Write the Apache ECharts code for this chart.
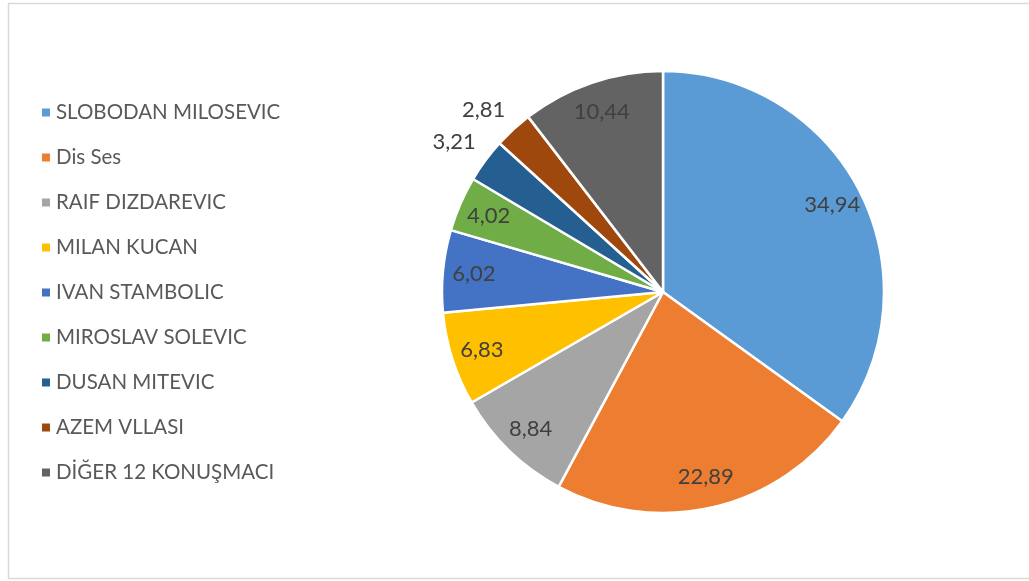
<!DOCTYPE html>
<html>
<head>
<meta charset="utf-8">
<script src="https://cdn.jsdelivr.net/npm/echarts@6/dist/echarts.min.js"></script>
<style>
  html, body { margin: 0; padding: 0; background: #ffffff; }
  #chart { width: 1029px; height: 581px; }
</style>
</head>
<body>
<div id="chart"></div>
<script>
// Speaking-time shares (percent) per speaker
const speakers = [
  'SLOBODAN MILOSEVIC',
  'Dis Ses',
  'RAIF DIZDAREVIC',
  'MILAN KUCAN',
  'IVAN STAMBOLIC',
  'MIROSLAV SOLEVIC',
  'DUSAN MITEVIC',
  'AZEM VLLASI',
  'DİĞER 12 KONUŞMACI'
];
const shares = [34.94, 22.89, 8.84, 6.83, 6.02, 4.02, 3.21, 2.81, 10.44];
const sliceColors = ['#5B9BD5', '#ED7D31', '#A5A5A5', '#FFC000', '#4472C4',
                     '#70AD47', '#255E91', '#9E480E', '#636363'];

const FONT = 'Lato, "Open Sans", sans-serif';
const CX = 663, CY = 292, R = 221;

const total = shares.reduce((a, b) => a + b, 0);
// mid-angle of each slice, clockwise from 12 o'clock
const midAngles = [];
let acc = 0;
shares.forEach(v => {
  midAngles.push(((acc + v / 2) / total) * Math.PI * 2);
  acc += v;
});

const chart = echarts.init(document.getElementById('chart'), null, { renderer: 'canvas' });

chart.setOption({
  backgroundColor: '#ffffff',
  animation: false,
  color: sliceColors,
  graphic: [{
    type: 'rect',
    shape: { x: 8.5, y: 3.5, width: 1040, height: 575 },
    style: { fill: 'none', stroke: '#D9D9D9', lineWidth: 1.5 },
    silent: true,
    z: -10
  }],
  legend: {
    orient: 'vertical',
    left: 35,
    top: 97,
    icon: 'rect',
    itemWidth: 10,
    itemHeight: 10,
    itemGap: 24,
    textStyle: { fontFamily: FONT, fontSize: 20.5, color: '#595959', lineHeight: 21 },
    data: speakers
  },
  series: [{
    type: 'pie',
    center: [CX, CY],
    radius: [0, R],
    startAngle: 90,
    clockwise: true,
    avoidLabelOverlap: false,
    itemStyle: { borderColor: '#ffffff', borderWidth: 2.5 },
    label: {
      show: true,
      position: 'inside',
      color: '#404040',
      fontFamily: FONT,
      fontSize: 22,
      formatter: p => p.value.toFixed(2).replace('.', ',')
    },
    labelLine: { show: false },
    emphasis: { disabled: true },
    labelLayout: params => {
      const i = params.dataIndex;
      const a = midAngles[i];
      const sx = Math.sin(a), sy = -Math.cos(a);
      if (shares[i] < 3.5) {
        // small slices carry their label just outside the rim,
        // the box's inner corner resting on the anchor point
        const d = R + 12;
        return {
          x: CX + sx * d,
          y: CY + sy * d,
          align: sx < 0 ? 'right' : 'left',
          verticalAlign: sy < 0 ? 'bottom' : 'top'
        };
      }
      const d = R * 0.86;
      return {
        x: CX + sx * d,
        y: CY + sy * d,
        align: 'center',
        verticalAlign: 'middle'
      };
    },
    data: speakers.map((name, i) => ({ name, value: shares[i] }))
  }]
});
</script>
</body>
</html>
